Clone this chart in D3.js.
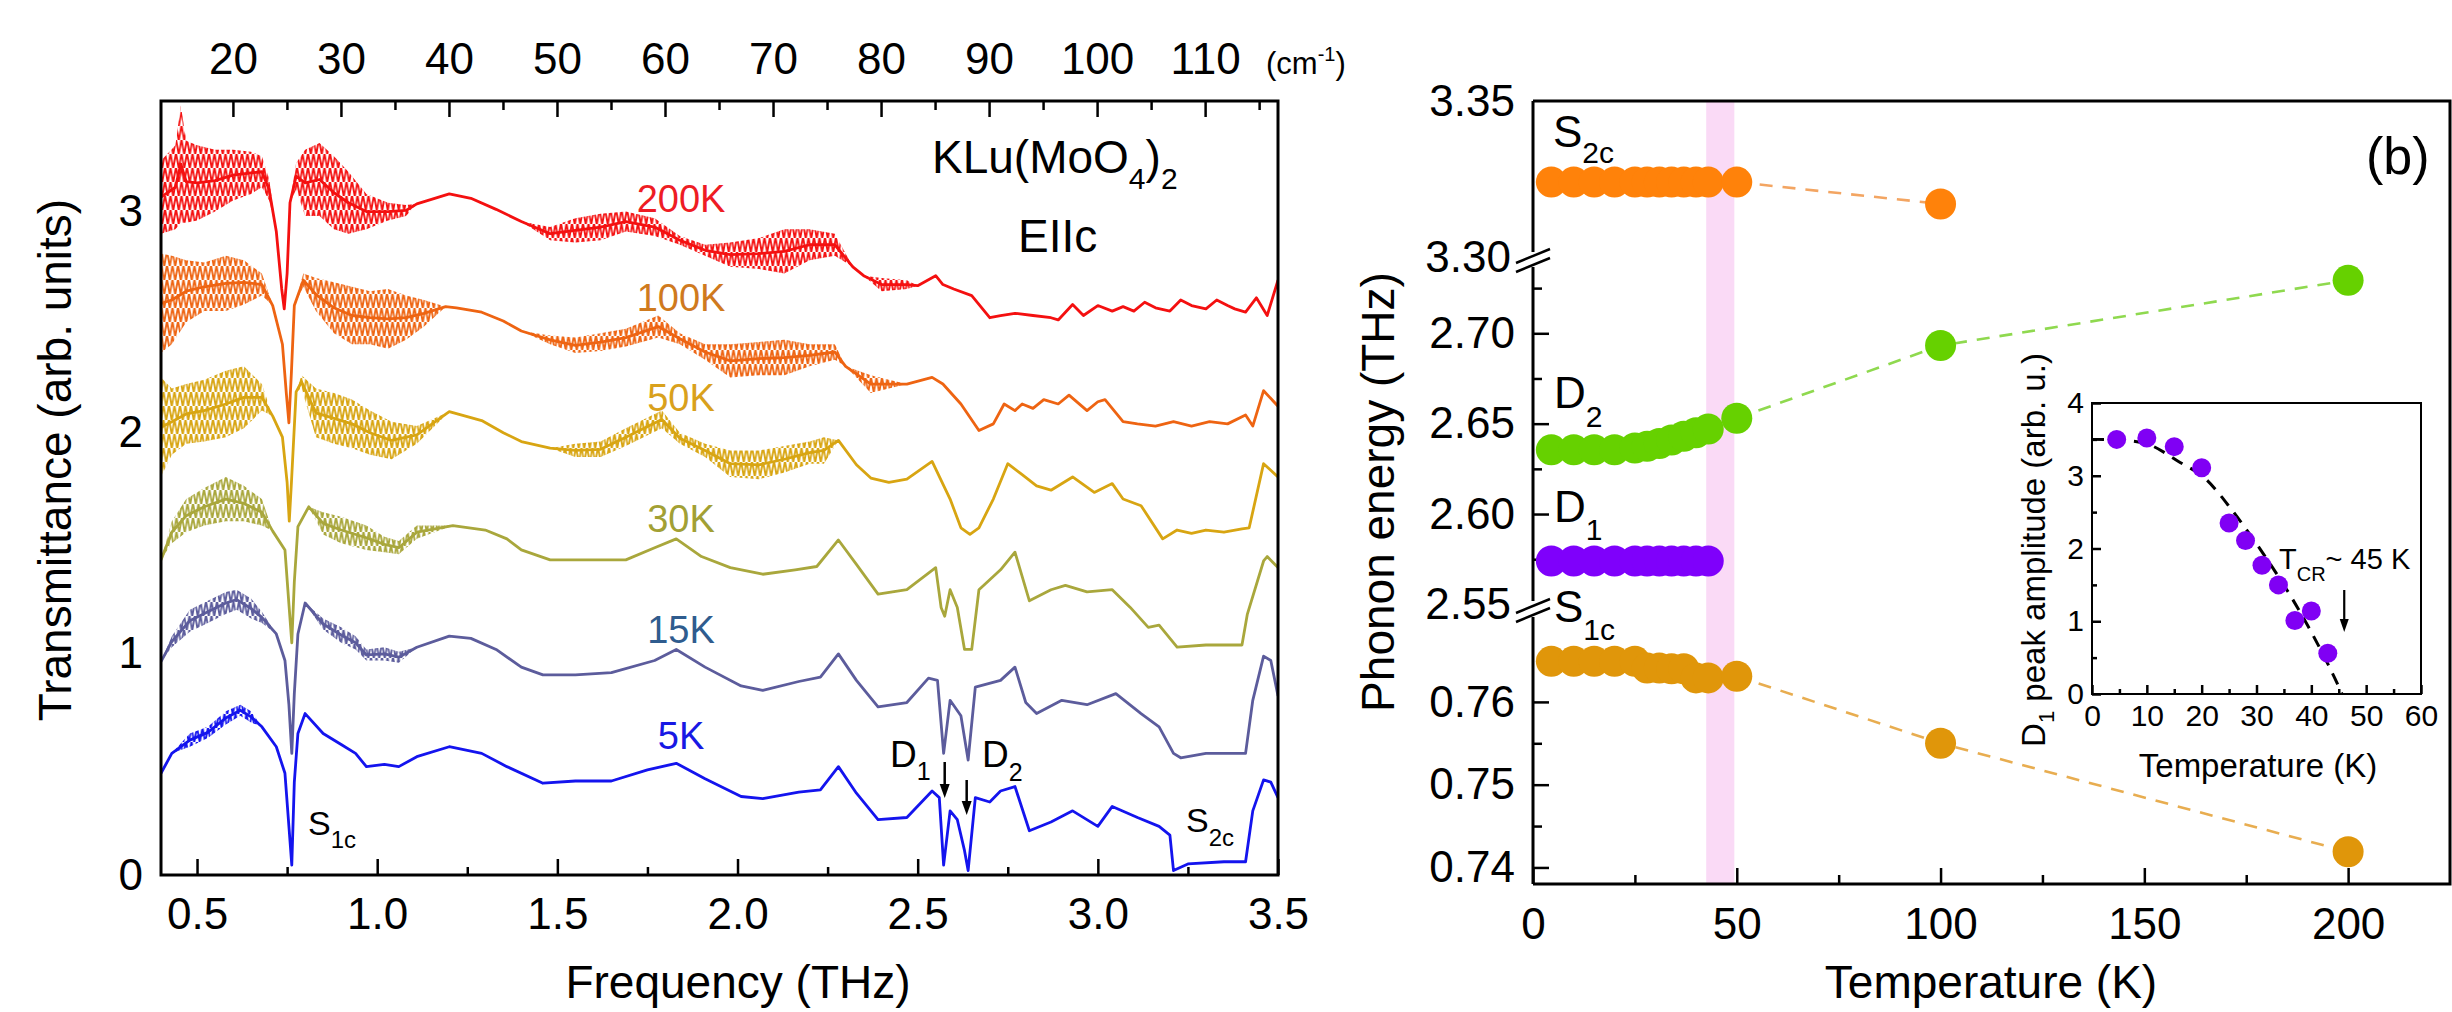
<!DOCTYPE html>
<html><head><meta charset="utf-8">
<script src="https://cdn.jsdelivr.net/npm/d3@7"></script>
<style>
html,body{margin:0;padding:0;background:#fff;}
text{font-family:"Liberation Sans",Arial,Helvetica,sans-serif;fill:#000;}
</style></head>
<body><svg id="c" width="2452" height="1012"></svg>
<script>
// ---------------- DATA ----------------
// Spectra: [frequency THz, transmittance (offset), half-width of fringe band]
const spec200K = [[0.40,3.065,0.165],[0.44,3.11,0.19],[0.455,3.215,0.265],[0.47,3.135,0.185],[0.50,3.13,0.17],[0.55,3.14,0.14],[0.60,3.165,0.115],[0.65,3.175,0.095],[0.68,3.18,0.07],[0.70,3.10,0.05],[0.72,2.91,0],[0.735,2.65,0],[0.742,2.56,0],[0.75,2.72,0],[0.758,3.04,0],[0.775,3.16,0.06],[0.80,3.13,0.15],[0.84,3.145,0.165],[0.88,3.085,0.165],[0.92,3.04,0.14],[0.97,3.00,0.08],[1.03,3.00,0.04],[1.08,3.005,0.025],[1.11,3.035,0],[1.20,3.08,0],[1.26,3.06,0],[1.33,3.01,0],[1.40,2.955,0],[1.48,2.90,0.03],[1.55,2.915,0.055],[1.62,2.93,0.06],[1.69,2.955,0.045],[1.77,2.93,0.04],[1.84,2.87,0.02],[1.91,2.825,0.025],[1.98,2.805,0.055],[2.06,2.81,0.07],[2.13,2.82,0.10],[2.20,2.85,0.07],[2.27,2.85,0.05],[2.32,2.75,0],[2.35,2.71,0],[2.40,2.67,0.03],[2.47,2.67,0.02],[2.50,2.665,0],[2.55,2.71,0],[2.57,2.67,0],[2.60,2.65,0],[2.65,2.62,0],[2.70,2.52,0],[2.73,2.53,0],[2.77,2.54,0],[2.82,2.53,0],[2.87,2.52,0],[2.89,2.51,0],[2.93,2.58,0],[2.96,2.53,0],[3.00,2.575,0],[3.04,2.55,0],[3.07,2.57,0],[3.10,2.55,0],[3.13,2.59,0],[3.16,2.565,0],[3.20,2.55,0],[3.23,2.60,0],[3.26,2.575,0],[3.30,2.56,0],[3.33,2.60,0],[3.36,2.575,0],[3.38,2.56,0],[3.41,2.545,0],[3.44,2.61,0],[3.47,2.53,0],[3.50,2.69,0]];
const spec100K = [[0.40,2.585,0.225],[0.43,2.60,0.20],[0.47,2.64,0.14],[0.52,2.66,0.11],[0.58,2.675,0.125],[0.63,2.68,0.10],[0.68,2.67,0.05],[0.71,2.575,0],[0.737,2.40,0],[0.748,2.175,0],[0.755,2.045,0],[0.762,2.275,0],[0.77,2.575,0],[0.795,2.69,0.03],[0.83,2.625,0.075],[0.88,2.565,0.115],[0.93,2.53,0.13],[0.98,2.52,0.12],[1.03,2.515,0.135],[1.08,2.52,0.10],[1.13,2.54,0.06],[1.19,2.57,0],[1.22,2.565,0],[1.29,2.545,0],[1.35,2.505,0],[1.40,2.46,0],[1.48,2.42,0.02],[1.55,2.395,0.035],[1.62,2.41,0.04],[1.69,2.43,0.04],[1.78,2.48,0.05],[1.84,2.425,0.025],[1.91,2.365,0.035],[1.98,2.325,0.075],[2.06,2.335,0.075],[2.13,2.34,0.08],[2.20,2.35,0.05],[2.27,2.365,0.035],[2.30,2.30,0],[2.37,2.22,0.04],[2.42,2.22,0.02],[2.47,2.22,0],[2.54,2.25,0],[2.57,2.22,0],[2.62,2.13,0],[2.67,2.01,0],[2.71,2.04,0],[2.74,2.13,0],[2.77,2.10,0],[2.79,2.13,0],[2.82,2.11,0],[2.85,2.15,0],[2.89,2.13,0],[2.92,2.17,0],[2.97,2.10,0],[3.00,2.14,0],[3.02,2.15,0],[3.07,2.05,0],[3.11,2.04,0],[3.16,2.03,0],[3.21,2.05,0],[3.26,2.03,0],[3.31,2.05,0],[3.36,2.04,0],[3.41,2.08,0],[3.43,2.03,0],[3.46,2.19,0],[3.50,2.12,0]];
const spec50K = [[0.40,2.025,0.225],[0.43,2.05,0.15],[0.47,2.085,0.135],[0.52,2.10,0.14],[0.58,2.13,0.15],[0.63,2.16,0.14],[0.68,2.16,0.06],[0.71,2.075,0],[0.737,1.98,0],[0.75,1.775,0],[0.756,1.60,0],[0.762,1.775,0],[0.775,2.185,0],[0.79,2.23,0.03],[0.83,2.09,0.11],[0.88,2.065,0.115],[0.93,2.04,0.11],[0.98,2.00,0.10],[1.04,1.965,0.085],[1.11,1.99,0.04],[1.20,2.095,0],[1.29,2.055,0],[1.35,2.00,0],[1.40,1.96,0],[1.48,1.93,0],[1.55,1.92,0.03],[1.62,1.925,0.035],[1.69,1.98,0.04],[1.79,2.06,0.04],[1.84,1.975,0.025],[1.91,1.92,0.03],[1.98,1.86,0.06],[2.06,1.855,0.065],[2.13,1.88,0.06],[2.20,1.91,0.05],[2.24,1.92,0.06],[2.28,1.965,0],[2.33,1.855,0],[2.37,1.795,0],[2.42,1.775,0],[2.47,1.79,0],[2.54,1.87,0],[2.59,1.70,0],[2.62,1.57,0],[2.645,1.54,0],[2.67,1.57,0],[2.71,1.70,0],[2.75,1.86,0],[2.79,1.81,0],[2.83,1.76,0],[2.87,1.74,0],[2.93,1.80,0],[2.99,1.73,0],[3.04,1.77,0],[3.07,1.70,0],[3.12,1.67,0],[3.18,1.52,0],[3.22,1.56,0],[3.26,1.545,0],[3.30,1.56,0],[3.35,1.55,0],[3.40,1.565,0],[3.42,1.57,0],[3.46,1.86,0],[3.50,1.80,0]];
const spec30K = [[0.40,1.425,0],[0.43,1.55,0.05],[0.47,1.625,0.075],[0.52,1.665,0.085],[0.58,1.70,0.10],[0.63,1.68,0.08],[0.68,1.64,0.06],[0.71,1.555,0],[0.744,1.47,0],[0.755,1.225,0],[0.763,1.05,0],[0.77,1.325,0],[0.78,1.575,0],[0.81,1.665,0],[0.85,1.59,0.05],[0.90,1.56,0.06],[0.97,1.525,0.055],[1.02,1.495,0.035],[1.06,1.48,0.03],[1.11,1.55,0.03],[1.21,1.58,0],[1.30,1.56,0],[1.36,1.52,0],[1.40,1.47,0],[1.48,1.425,0],[1.55,1.425,0],[1.69,1.425,0],[1.77,1.48,0],[1.83,1.52,0],[1.90,1.44,0],[1.98,1.39,0],[2.07,1.36,0],[2.16,1.38,0],[2.22,1.395,0],[2.28,1.515,0],[2.33,1.405,0],[2.39,1.27,0],[2.47,1.29,0],[2.55,1.39,0],[2.565,1.21,0],[2.575,1.17,0],[2.59,1.29,0],[2.61,1.21,0],[2.63,1.02,0],[2.65,1.02,0],[2.67,1.29,0],[2.73,1.38,0],[2.77,1.46,0],[2.81,1.24,0],[2.87,1.29,0],[2.91,1.31,0],[2.97,1.28,0],[3.04,1.29,0],[3.09,1.21,0],[3.14,1.12,0],[3.17,1.13,0],[3.22,1.03,0],[3.30,1.04,0],[3.40,1.04,0],[3.415,1.18,0],[3.46,1.42,0],[3.47,1.44,0],[3.50,1.39,0]];
const spec15K = [[0.40,0.965,0],[0.43,1.055,0.025],[0.48,1.15,0.05],[0.53,1.19,0.05],[0.58,1.23,0.05],[0.61,1.245,0.045],[0.65,1.205,0.045],[0.68,1.165,0.025],[0.72,1.09,0],[0.744,0.97,0],[0.755,0.77,0],[0.763,0.55,0],[0.77,0.82,0],[0.78,1.09,0],[0.80,1.23,0],[0.85,1.135,0.025],[0.90,1.085,0.035],[0.94,1.05,0.03],[0.97,0.995,0.025],[1.02,1.00,0.03],[1.06,0.985,0.025],[1.11,1.03,0],[1.20,1.08,0],[1.26,1.07,0],[1.33,1.02,0],[1.40,0.94,0],[1.46,0.905,0],[1.55,0.905,0],[1.65,0.915,0],[1.77,0.97,0],[1.83,1.02,0],[1.91,0.94,0],[2.01,0.855,0],[2.07,0.835,0],[2.17,0.875,0],[2.23,0.895,0],[2.28,1.00,0],[2.33,0.88,0],[2.39,0.76,0],[2.47,0.78,0],[2.53,0.89,0],[2.555,0.88,0],[2.572,0.55,0],[2.59,0.79,0],[2.62,0.72,0],[2.64,0.52,0],[2.66,0.85,0],[2.73,0.88,0],[2.77,0.94,0],[2.80,0.78,0],[2.83,0.73,0],[2.90,0.79,0],[2.97,0.77,0],[3.05,0.82,0],[3.12,0.73,0],[3.17,0.67,0],[3.21,0.55,0],[3.23,0.53,0],[3.30,0.55,0],[3.41,0.55,0],[3.43,0.79,0],[3.46,0.99,0],[3.48,0.97,0],[3.50,0.81,0]];
const spec5K = [[0.40,0.46,0],[0.43,0.55,0],[0.48,0.61,0.03],[0.53,0.645,0.025],[0.58,0.71,0.03],[0.62,0.745,0.025],[0.65,0.715,0.025],[0.68,0.67,0],[0.72,0.58,0],[0.744,0.46,0],[0.755,0.22,0],[0.763,0.045,0],[0.77,0.42,0],[0.78,0.64,0],[0.80,0.73,0],[0.85,0.64,0],[0.90,0.59,0],[0.94,0.55,0],[0.97,0.49,0],[1.02,0.50,0],[1.06,0.49,0],[1.11,0.535,0],[1.20,0.58,0],[1.29,0.55,0],[1.36,0.49,0],[1.46,0.415,0],[1.55,0.425,0],[1.65,0.425,0],[1.75,0.475,0],[1.83,0.505,0],[1.91,0.435,0],[2.01,0.355,0],[2.07,0.345,0],[2.17,0.375,0],[2.23,0.385,0],[2.28,0.49,0],[2.33,0.37,0],[2.39,0.25,0],[2.47,0.26,0],[2.54,0.38,0],[2.56,0.35,0],[2.572,0.045,0],[2.59,0.29,0],[2.61,0.25,0],[2.63,0.11,0],[2.64,0.02,0],[2.66,0.35,0],[2.70,0.33,0],[2.73,0.38,0],[2.77,0.40,0],[2.81,0.20,0],[2.87,0.24,0],[2.93,0.29,0],[3.00,0.22,0],[3.04,0.31,0],[3.11,0.26,0],[3.17,0.22,0],[3.20,0.18,0],[3.21,0.02,0],[3.25,0.05,0],[3.35,0.06,0],[3.41,0.06,0],[3.43,0.29,0],[3.46,0.43,0],[3.48,0.42,0],[3.50,0.35,0]];
const specNames = ["200K","100K","50K","30K","15K","5K"];
const specLabelY = [3.0,2.55,2.1,1.55,1.05,0.57];   // label baseline positions (transmittance units)
const freqTicks = [0.5,1.0,1.5,2.0,2.5,3.0,3.5];
const wnTicks = [20,30,40,50,60,70,80,90,100,110];
const transTicks = [0,1,2,3];

// Phonon energies vs temperature
const tempsLow = [4.5,10,15,20,25,28,31,34,37,40,43];
const tS2c = tempsLow.concat([50,100]);
const eS2c = [3.324,3.324,3.324,3.324,3.324,3.324,3.324,3.324,3.324,3.324,3.324,3.324,3.317];
const tD2 = tempsLow.concat([50,100,200]);
const eD2 = [2.6355,2.6355,2.6355,2.6355,2.6365,2.6375,2.639,2.641,2.643,2.645,2.647,2.6530,2.6932,2.7293];
const tD1 = tempsLow;
const eD1 = [2.574,2.574,2.574,2.574,2.574,2.574,2.574,2.574,2.574,2.574,2.574];
const tS1c = tempsLow.concat([50,100,200]);
const eS1c = [0.7649,0.7649,0.7649,0.7649,0.7649,0.7641,0.7641,0.7640,0.7640,0.7629,0.7629,0.7631,0.7550,0.7419];
const tempTicks = [0,50,100,150,200];

// Inset: D1 peak amplitude
const insT = [4.5,10,15,20,25,28,31,34,37,40,43];
const insA = [3.50,3.52,3.40,3.11,2.35,2.11,1.77,1.50,1.01,1.14,0.56];
const fitT = [0,5,9.9,15.7,20.8,25.3,29.2,33.0,36.2,40.0,42.7,45.0,45.6];
const fitA = [3.50,3.49,3.44,3.20,2.95,2.55,2.15,1.73,1.35,0.85,0.46,0.10,0.0];

// ---------------- DRAWING ----------------
const svg = d3.select("#c");
svg.append("rect").attr("width",2452).attr("height",1012).attr("fill","#fff");
const FONT = 44, TITLE = 46;

// ===== Left panel =====
const x = d3.scaleLinear().domain([0.4,3.5]).range([161,1278]);
const y = d3.scaleLinear().domain([0,3.5]).range([875,101]);
const THZ_PER_CM = 0.0299792458;
const xcm = d3.scaleLinear().domain([0.4/THZ_PER_CM,3.5/THZ_PER_CM]).range([161,1278]);

const defs = svg.append("defs");
defs.append("clipPath").attr("id","clipL").append("rect")
  .attr("x",161).attr("y",101).attr("width",1278-161).attr("height",875-101);

const specColors = ["#f41010","#ee6412","#d8a512","#a9a73c","#5c5c9c","#1414ee"];
const labelColors = ["#ee1c24","#cf7a1e","#d9a11c","#a2a034","#2f5c8e","#1818e4"];
const specs = [spec200K,spec100K,spec50K,spec30K,spec15K,spec5K];
// fringe texture: zig-zag strokes, like densely packed Fabry-Perot oscillations
specColors.forEach((c,i)=>{
  const p = defs.append("pattern").attr("id","fr"+i).attr("patternUnits","userSpaceOnUse")
    .attr("width",5.5).attr("height",14).attr("x",i*2);
  p.append("path").attr("d","M0,-1 L2.75,15 L5.5,-1").attr("stroke",c).attr("stroke-width",1.8).attr("fill","none");
});
const area = d3.area().x(d=>x(d[0])).y0(d=>y(d[1]-d[2])).y1(d=>y(d[1]+d[2]));
const cline = d3.line().x(d=>x(d[0])).y(d=>y(d[1]));
const gL = svg.append("g").attr("clip-path","url(#clipL)");
specs.forEach((s,i)=>{
  gL.append("path").attr("d",area(s)).attr("fill","url(#fr"+i+")").attr("stroke","none");
  gL.append("path").attr("d",cline(s)).attr("fill","none")
    .attr("stroke",specColors[i]).attr("stroke-width",2.8).attr("stroke-linejoin","round");
});
// curve labels
specNames.forEach((n,i)=>{
  svg.append("text").attr("x",681).attr("y",y(specLabelY[i])).attr("text-anchor","middle")
    .attr("font-size",38).style("fill",labelColors[i]).text(n);
});

// bottom axis
svg.append("g").attr("transform","translate(0,875)")
  .call(d3.axisBottom(x).tickValues(freqTicks).tickSize(-16).tickPadding(23).tickFormat(d3.format(".1f")));
svg.append("g").attr("transform","translate(0,875)")
  .call(d3.axisBottom(x).tickValues(d3.range(0.75,3.5,0.5)).tickSize(-8).tickFormat(""));
// top axis (cm-1)
svg.append("g").attr("transform","translate(0,101)")
  .call(d3.axisTop(xcm).tickValues(wnTicks).tickSize(-16).tickPadding(27).tickFormat(d3.format("d")));
svg.append("g").attr("transform","translate(0,101)")
  .call(d3.axisTop(xcm).tickValues(d3.range(25,116,10)).tickSize(-9).tickFormat(""));
// left axis
svg.append("g").attr("transform","translate(161,0)")
  .call(d3.axisLeft(y).tickValues(transTicks).tickSize(0).tickPadding(18).tickFormat(d3.format("d")));

svg.append("rect").attr("x",161).attr("y",101).attr("width",1278-161).attr("height",875-101)
  .attr("fill","none").attr("stroke","#000").attr("stroke-width",3);

// titles
svg.append("text").attr("x",738).attr("y",998).attr("text-anchor","middle").attr("font-size",TITLE).text("Frequency (THz)");
svg.append("text").attr("transform","translate(71,460) rotate(-90)").attr("text-anchor","middle").attr("font-size",TITLE).text("Transmittance (arb. units)");
const cmT = svg.append("text").attr("x",1266).attr("y",74).attr("font-size",31);
cmT.append("tspan").text("(cm");
cmT.append("tspan").attr("dy",-13).attr("font-size",20).text("-1");
cmT.append("tspan").attr("dy",13).text(")");

// compound label
const kl = svg.append("text").attr("x",932).attr("y",173).attr("font-size",46);
kl.append("tspan").text("KLu(MoO");
kl.append("tspan").attr("dy",16).attr("font-size",30).text("4");
kl.append("tspan").attr("dy",-16).text(")");
kl.append("tspan").attr("dy",16).attr("font-size",30).text("2");
svg.append("text").attr("x",1018).attr("y",252).attr("font-size",46).text("EIIc");

function subLabel(px,py,main,sub,fs,sfs,dy){
  const t = svg.append("text").attr("x",px).attr("y",py).attr("font-size",fs);
  t.append("tspan").text(main);
  t.append("tspan").attr("dy",dy).attr("font-size",sfs).text(sub);
  return t;
}
subLabel(308,835,"S","1c",34,24,13);
subLabel(890,767,"D","1",37,25,13);
subLabel(982,767,"D","2",37,25,14);
subLabel(1186,832,"S","2c",34,24,14);
// arrows for D1, D2
function arrow(px,y1,y2,hw,hl,sw){
  svg.append("line").attr("x1",px).attr("x2",px).attr("y1",y1).attr("y2",y2-hl+2)
    .attr("stroke","#000").attr("stroke-width",sw);
  svg.append("path").attr("d",`M${px-hw},${y2-hl} L${px+hw},${y2-hl} L${px},${y2} Z`).attr("fill","#000");
}
arrow(x(2.575),762,798,5,14,2.5);
arrow(x(2.636),780,815,5,14,2.5);

// ===== Right panel =====
const xT = d3.scaleLinear().domain([0,225]).range([1533,2450]);
const yUp = d3.scaleLinear().domain([3.30,3.35]).range([257,101]);
const yMid = d3.scaleLinear().domain([2.55,2.74]).range([604.4,261]);
const yLow = d3.scaleLinear().domain([0.738,0.7705]).range([884,615]);

// pink band
svg.append("rect").attr("x",xT(42.5)).attr("y",102).attr("width",xT(49.4)-xT(42.5)).attr("height",884-102)
  .attr("fill","#fadaf6");

// axes
svg.append("g").attr("transform","translate(0,884)")
  .call(d3.axisBottom(xT).tickValues(tempTicks).tickSize(-16).tickPadding(24).tickFormat(d3.format("d")));
svg.append("g").attr("transform","translate(0,884)")
  .call(d3.axisBottom(xT).tickValues([25,75,125,175]).tickSize(-9).tickFormat(""));
svg.append("g").attr("transform","translate(1533,0)")
  .call(d3.axisLeft(yUp).tickValues([3.35]).tickSize(0).tickPadding(18).tickFormat(d3.format(".2f")));
svg.append("g").attr("transform","translate(1533,0)")
  .call(d3.axisLeft(yUp).tickValues([3.30]).tickSize(0).tickPadding(22).tickFormat(d3.format(".2f")));
svg.append("g").attr("transform","translate(1533,0)")
  .call(d3.axisLeft(yMid).tickValues([2.60,2.65,2.70]).tickSize(-16).tickPadding(18).tickFormat(d3.format(".2f")));
svg.append("g").attr("transform","translate(1533,0)")
  .call(d3.axisLeft(yMid).tickValues([2.55]).tickSize(0).tickPadding(22).tickFormat(d3.format(".2f")));
svg.append("g").attr("transform","translate(1533,0)")
  .call(d3.axisLeft(yMid).tickValues([2.575,2.625,2.675,2.725]).tickSize(-9).tickFormat(""));
svg.append("g").attr("transform","translate(1533,0)")
  .call(d3.axisLeft(yLow).tickValues([0.74,0.75,0.76]).tickSize(-16).tickPadding(18).tickFormat(d3.format(".2f")));
svg.append("g").attr("transform","translate(1533,0)")
  .call(d3.axisLeft(yLow).tickValues([0.745,0.755]).tickSize(-9).tickFormat(""));

// frame with breaks on left axis
const fr = svg.append("g").attr("stroke","#000").attr("stroke-width",3).attr("fill","none");
fr.append("path").attr("d","M1533,101 L2450,101 L2450,884 L1533,884");
fr.append("path").attr("d","M1533,101 L1533,252 M1533,267 L1533,601 M1533,617 L1533,884");
[259,609].forEach(b=>{
  fr.append("line").attr("x1",1516).attr("y1",b+4).attr("x2",1550).attr("y2",b-10).attr("stroke-width",2.5);
  fr.append("line").attr("x1",1516).attr("y1",b+13).attr("x2",1550).attr("y2",b-1).attr("stroke-width",2.5);
});

// dashed connectors (50K onwards)
function dashed(ts,es,sc,col){
  const pts = ts.map((t,i)=>[t,es[i]]).filter(d=>d[0]>=50);
  svg.append("path").attr("d",d3.line().x(d=>xT(d[0])).y(d=>sc(d[1]))(pts))
    .attr("fill","none").attr("stroke",col).attr("stroke-width",2.6).attr("stroke-dasharray","13,10");
}
dashed(tS2c,eS2c,yUp,"#f3a562");
dashed(tD2,eD2,yMid,"#8fd94f");
dashed(tS1c,eS1c,yLow,"#e8ad50");

function dots(ts,es,sc,col){
  svg.append("g").selectAll("circle").data(ts.map((t,i)=>[t,es[i]])).join("circle")
    .attr("cx",d=>xT(d[0])).attr("cy",d=>sc(d[1])).attr("r",15.5).attr("fill",col);
}
dots(tS2c,eS2c,yUp,"#ff820a");
dots(tD2,eD2,yMid,"#66d100");
dots(tD1,eD1,yMid,"#7f00fb");
dots(tS1c,eS1c,yLow,"#e0960a");

subLabel(1553,147,"S","2c",44,30,16);
subLabel(1554,408,"D","2",44,30,19);
subLabel(1554,522,"D","1",44,30,18);
subLabel(1554,622,"S","1c",44,30,18);
svg.append("text").attr("x",2366).attr("y",174).attr("font-size",52).text("(b)");

svg.append("text").attr("x",1991).attr("y",998).attr("text-anchor","middle").attr("font-size",TITLE).text("Temperature (K)");
svg.append("text").attr("transform","translate(1394,492) rotate(-90)").attr("text-anchor","middle").attr("font-size",TITLE).text("Phonon energy (THz)");

// ===== Inset =====
const xi = d3.scaleLinear().domain([0,60]).range([2092,2421]);
const yi = d3.scaleLinear().domain([0,4]).range([694,403]);
const IF = 30;
const ib = svg.append("g").attr("transform","translate(0,694)")
  .call(d3.axisBottom(xi).tickValues(d3.range(0,61,10)).tickSize(-9).tickPadding(11).tickFormat(d3.format("d")));
svg.append("g").attr("transform","translate(0,694)")
  .call(d3.axisBottom(xi).tickValues(d3.range(5,60,10)).tickSize(-5).tickFormat(""));
const il = svg.append("g").attr("transform","translate(2092,0)")
  .call(d3.axisLeft(yi).tickValues(d3.range(0,5,1)).tickSize(-9).tickPadding(8).tickFormat(d3.format("d")));
svg.append("g").attr("transform","translate(2092,0)")
  .call(d3.axisLeft(yi).tickValues([0.5,1.5,2.5,3.5]).tickSize(-5).tickFormat(""));
svg.append("rect").attr("x",2092).attr("y",403).attr("width",2421-2092).attr("height",694-403)
  .attr("fill","none").attr("stroke","#000").attr("stroke-width",2);

svg.append("path").attr("d",d3.line().curve(d3.curveMonotoneX).x((d,i)=>xi(fitT[i])).y((d,i)=>yi(fitA[i]))(fitT))
  .attr("fill","none").attr("stroke","#000").attr("stroke-width",3).attr("stroke-dasharray","12,9");
svg.append("g").selectAll("circle").data(insT.map((t,i)=>[t,insA[i]])).join("circle")
  .attr("cx",d=>xi(d[0])).attr("cy",d=>yi(d[1])).attr("r",9.5).attr("fill","#8000f4");

const tc = svg.append("text").attr("x",2279).attr("y",569).attr("font-size",29);
tc.append("tspan").text("T");
tc.append("tspan").attr("dy",12).attr("font-size",20).text("CR");
tc.append("tspan").attr("dy",-12).text("~ 45 K");
arrow(xi(46),590,632,4.5,13,2.2);

svg.append("text").attr("x",2258).attr("y",777).attr("text-anchor","middle").attr("font-size",33).text("Temperature (K)");
const iy = svg.append("text").attr("transform","translate(2045,550) rotate(-90)").attr("text-anchor","middle").attr("font-size",33);
iy.append("tspan").text("D");
iy.append("tspan").attr("dy",9).attr("font-size",22).text("1");
iy.append("tspan").attr("dy",-9).text(" peak amplitude (arb. u.)");

// style all axes
svg.selectAll(".domain").remove();
svg.selectAll(".tick line").attr("stroke","#000").attr("stroke-width",2.5);
svg.selectAll(".tick text").attr("font-size",FONT).attr("font-family",null).style("fill","#000");
ib.selectAll(".tick text").attr("font-size",IF);
il.selectAll(".tick text").attr("font-size",IF);
</script></body></html>
